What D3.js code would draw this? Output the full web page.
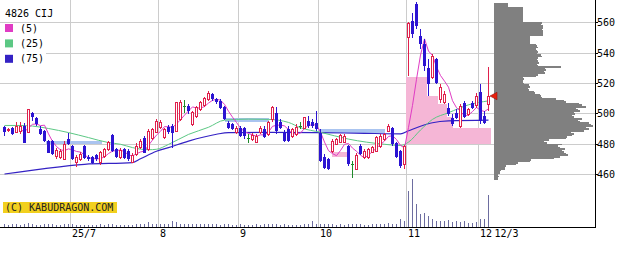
<!DOCTYPE html>
<html><head><meta charset="utf-8">
<script src="https://cdn.jsdelivr.net/npm/d3@7"></script>
<style>html,body{margin:0;padding:0;background:#fff}svg{display:block}</style>
</head><body><svg id="c" width="639" height="254"></svg>
<script>
// ---- data ----
const ticker = "4826 CIJ";
const opens = [491,489.2,490.5,487.6,488.3,491.6,487.2,500.4,497.1,489.8,
488.3,481.7,481.7,471.4,470.7,469.6,482.8,478.4,467.8,469.6,
478.4,471.4,471.4,472.2,467.8,471.8,476.2,485.4,476.2,470.7,
476.2,475.1,467.8,472.9,477.3,483.9,476.2,483.2,487.6,490.5,
483.9,491.2,491.6,488.3,496,504.8,504.8,492.7,498.2,502.6,
505.2,509.2,512.5,509.2,508.1,504.4,493.8,492.7,487.2,490.5,
490.5,483.9,482.8,480.6,487.2,489.8,486.1,496,500.4,494.2,
487.6,489.8,485,486.1,491.6,489.8,494.9,494.2,493.8,487.2,
471.4,469.6,475.1,479.5,481,480.6,478.4,466.3,463,478.4,
470.7,470.7,474.4,475.1,478.4,482.8,488.3,490.5,480.4,475,
466.5,549.8,560.8,571.8,550.9,545.4,530.1,523.5,535.6,509.2,
507,503.7,497.1,500.4,491.6,507,499.3,507,505,514,
498.2,505.5];
const highs = [491.6,490.5,491.2,494.2,494.2,493.8,503,501,497.8,491.6,
489,482.4,482.2,477.3,476.2,481.7,486.8,478.8,472.2,474.4,
478.8,472.2,471.8,472.9,475.1,477.3,481.7,486.1,477.3,477.3,
477.3,476.2,474,480.6,483.2,485,489.8,490.5,496.4,495.6,
490.5,492,492.7,507.4,508.8,508.8,505.9,501.5,504.8,508.1,
511,514.7,513.2,510.3,509.2,504.8,494.9,493.8,491.6,491.6,
491.2,486.1,487.2,486.1,491.6,491.6,494.9,505,504.4,496,
489,491.6,490.5,492.7,494.2,497.8,498.2,496,501.5,489.4,
472.9,470.7,482.8,484,486.1,486.1,478.8,468.5,473.6,479.5,
476.2,477.3,478.4,485,486.1,487.2,492.7,491.2,481,476,
479,560.2,566.3,573.3,555.3,548.7,535.6,538.9,536.7,519.1,
514.7,507,499.3,502.6,505.9,508.1,503.7,508.1,513.6,519,
501.5,530.5];
const lows = [485,487.6,485.4,487.2,486.1,480.2,487.2,494.9,491.6,485.4,
481,473.6,472.2,469.6,469.6,469.2,478.8,469.2,464.8,468.5,
470,468.5,466.3,468.5,466,470.7,475.1,474.4,470.5,469.6,
469.6,468.5,467,471.8,476.2,473.6,475.1,482.4,487.2,489.4,
483.2,486.1,477.3,487.6,494.9,500.4,499.3,491.6,497.1,501.5,
504.4,508.1,508.1,505.9,502.6,495.6,489.4,489,486.1,484.5,
483.2,480.6,481.7,480.2,486.1,483.9,485,494,486.1,489.4,
481,481,483.9,485,489.4,489.4,490.5,490.5,488.3,467.8,
463,462.6,474,478.8,480.6,480.2,465.6,457.5,462.6,472.2,
470,470,473.6,474.4,477.3,481.7,487.6,478.4,470.8,464,
463,524.6,549.8,555.3,542.1,527.9,511.4,522.4,519.1,507,
505.9,498.2,491.6,496.4,490.5,497,498.2,502.6,503.7,493,
492.7,501.5];
const closes = [487.6,489.6,486.1,491.6,491.6,480.2,502.6,497.8,492.7,486.1,
481.7,474,472.9,475.8,475.1,479.5,479.5,469.6,470.7,472.9,
470.7,469.6,467,469.6,474,476.2,480.6,475.1,471.4,475.8,
470.7,469.6,472.2,478.4,481.7,474,488.3,489.4,494.9,494.2,
489.4,487.6,487.2,507,507.4,504.8,501.5,500.4,503.7,507,
509.6,513.2,509.2,507.4,503.7,496,490.5,489.8,489.8,485,
485,483.9,485.4,485,489.8,484.5,493.8,504,488.5,490.5,
481.7,481.7,489.4,490.5,491.6,497.1,491.6,491.6,489.4,468.5,
464.1,463.4,481.7,482.8,485.4,484.5,466.3,466.3,472.2,472.9,
475.1,476.2,477.3,483.9,485,486.1,491.6,479.5,471.5,465.5,
477.8,559.3,552,557.5,545.4,531.2,519.1,537.3,520.2,516.9,
512.5,499.3,492.7,497.1,504.8,497.5,502.6,503.7,511,495,
493.8,511.4];
const volumes = [18,15,20,16,14,22,27,18,15,14,
16,20,22,15,14,18,20,16,14,12,
14,12,15,13,16,14,18,20,15,13,
14,12,15,16,18,20,37,24,20,18,
16,20,53,45,25,18,20,16,22,18,
20,24,18,16,15,20,18,14,15,16,
14,12,15,16,14,18,20,24,18,15,
16,14,12,15,14,18,16,53,20,22,
25,20,18,15,16,14,20,18,22,16,
14,15,20,16,18,20,30,20,25,73,
50,346,466,216,116,126,96,73,50,50,
50,60,45,50,40,50,33,33,45,70,
70,306];
const ma25Idx = [0,4,7,11,16,21,26,29,32,36,38,41,46,51,55,61,66,71,74,79,86,95,99,101,104,107,111,116,121];
const ma25Val = [492,492,491.6,490,487.3,484,480.7,479.6,477.4,476,476.3,479.5,486.1,490.8,495.5,496.2,496,494,490.5,487.5,483,479.6,478.8,481,489,496,500.4,505.6,508.2];
const ma75Idx = [0,10,20,32,34,38,41,46,53,56,66,78,90,99,101,104,107,111,121];
const ma75Val = [460,463.6,466.4,467.5,470,475,477.4,481.7,486.2,487.3,487.5,487.3,486.8,486.5,488.5,491.5,493.8,495,495.5];
const monthIdx = [17,39,59,79,101,119];
const monthLabels = ["25/7","8","9","10","11","12"];
const lastLabel = "12/3";
const priceTicks = [460,480,500,520,540,560];
const legendNames = ["(5)","(25)","(75)"];
// shaded price zones [fromIdx, toIdx, lowPrice, highPrice]
const blueZones = [[10.5,24.5,479.6,482.0],[55.3,66.3,494.6,497.0],[78.6,95.3,487.3,489.9]];
const pinkZones = [[81.9,85.7,471.5,474.5],[100.5,105.7,479.6,524.1],[105.7,108.5,479.6,511.4],
  [108.5,110.8,479.6,506],[110.8,112.3,479.6,497.5],[100.5,121.7,479.6,490.6]];
// volume-by-price profile, one value per 1 yen level starting at 456
const profileStart = 456;
const profileVol = [4,4,5,4, 6,6,7, 11,11,12, 22,24, 36,37, 60,66, 74,72, 70,68,71, 66,64,68,
  53,50,55, 72,73, 78,80,77, 90,95,92, 99,97,95, 86,84,88, 80,78,81, 80,86,84,82, 92,88,85,
  72,70,62, 48,47,46, 41,40, 35,34,36,35, 30,29,29,30,29, 42,44, 51,50,52,51, 67,
  44,43,45,44,43,44, 48,47, 43,44,43,42,44,43,42, 36,36,36,36,36,
  49,49,49,49,48,49,49,47,48, 29,29,29,29,29,29,29,29,29,29, 14,14,14];

// ---- chart ----
const svg = d3.select("#c");
const W = 639, H = 254;
const axisX = 595, axisY = 227;
const x = d3.scaleLinear().domain([0,121]).range([4,488]);
const y = d3.scaleLinear().domain([460,560]).range([174,22.3]);
const vY = d3.scaleLinear().domain([0,500]).range([axisY-1, axisY-51]);
const pX = d3.scaleLinear().domain([0,100]).range([494,594]);
const col = {red:"#e0204c", blue:"#2c14d2", green:"#1f8a2a", ma5:"#e03cc4", ma25:"#5cc884", ma75:"#3422c4",
  pink:"#f5b6d6", lblue:"#aac4f0", vol:"#6d6da0", grid:"#cccccc", prof:"#808080"};

svg.append("rect").attr("width",W).attr("height",H).attr("fill","#fff");

// grid
const g = svg.append("g").attr("shape-rendering","crispEdges");
priceTicks.forEach(p => g.append("line").attr("x1",0).attr("x2",axisX).attr("y1",Math.round(y(p))+0.5).attr("y2",Math.round(y(p))+0.5).attr("stroke",col.grid));
monthIdx.forEach(i => g.append("line").attr("x1",x(i)-2+0.5).attr("x2",x(i)-2+0.5).attr("y1",0).attr("y2",axisY).attr("stroke",col.grid));

// zones
const z = svg.append("g").attr("shape-rendering","crispEdges");
const zoneRect = (d,c) => z.append("rect").attr("x",x(d[0])).attr("width",x(d[1])-x(d[0]))
  .attr("y",y(d[3])).attr("height",y(d[2])-y(d[3])).attr("fill",c);
pinkZones.forEach(d => zoneRect(d,col.pink));
blueZones.forEach(d => zoneRect(d,col.lblue));

// volume
svg.append("g").attr("shape-rendering","crispEdges").selectAll("line").data(volumes).join("line")
  .attr("x1",(d,i)=>x(i)+0.5).attr("x2",(d,i)=>x(i)+0.5)
  .attr("y1",axisY).attr("y2",d=>vY(d)).attr("stroke",col.vol);

// profile
svg.append("g").attr("shape-rendering","crispEdges").selectAll("rect").data(profileVol).join("rect")
  .attr("x",pX(0)).attr("width",d=>pX(d)-pX(0))
  .attr("y",(d,i)=>y(profileStart+i+1)).attr("height",(d,i)=>y(profileStart+i)-y(profileStart+i+1)+0.3)
  .attr("fill",col.prof);

// moving averages
const ma5 = closes.map((c,i)=> i<4 ? null : d3.mean(closes.slice(i-4,i+1)));
const line = d3.line().defined(d=>d[1]!=null).x(d=>x(d[0])+0.5).y(d=>y(d[1]));
svg.append("path").attr("d",line.curve(d3.curveMonotoneX)(ma75Idx.map((k,j)=>[k,ma75Val[j]]))).attr("fill","none").attr("stroke",col.ma75).attr("stroke-width",1.2);
svg.append("path").attr("d",line.curve(d3.curveMonotoneX)(ma25Idx.map((k,j)=>[k,ma25Val[j]]))).attr("fill","none").attr("stroke",col.ma25).attr("stroke-width",1);
svg.append("path").attr("d",line.curve(d3.curveLinear)(ma5.map((v,i)=>[i,v]))).attr("fill","none").attr("stroke",col.ma5).attr("stroke-width",1);

// candles
const cg = svg.append("g").attr("shape-rendering","crispEdges");
closes.forEach((c,i) => {
  const o = opens[i], xi = x(i);
  const color = c>o ? col.red : (c<o ? col.blue : col.green);
  cg.append("line").attr("x1",xi+0.5).attr("x2",xi+0.5).attr("y1",y(highs[i])).attr("y2",y(lows[i])).attr("stroke",color);
  if (c>o) {
    cg.append("rect").attr("x",xi-0.5).attr("width",2).attr("y",y(c)).attr("height",Math.max(1,y(o)-y(c)))
      .attr("fill","#fff").attr("stroke",color);
  } else if (c<o) {
    cg.append("rect").attr("x",xi-1).attr("width",3).attr("y",y(o)).attr("height",Math.max(1,y(c)-y(o))).attr("fill",color);
  } else {
    cg.append("line").attr("x1",xi-1).attr("x2",xi+2).attr("y1",Math.round(y(c))+0.5).attr("y2",Math.round(y(c))+0.5).attr("stroke",color);
  }
});

// last price marker
const lp = y(closes[closes.length-1]), lx = x(closes.length-1);
svg.append("path").attr("d",`M${lx+2},${lp} L${lx+9},${lp-3.8} L${lx+9},${lp+3.8} Z`).attr("fill","#e8200c").attr("stroke","#901010").attr("stroke-width",0.6);

// axes
const ax = svg.append("g").attr("shape-rendering","crispEdges");
ax.append("line").attr("x1",0).attr("x2",axisX+1).attr("y1",axisY+0.5).attr("y2",axisY+0.5).attr("stroke","#000");
ax.append("line").attr("x1",axisX+0.5).attr("x2",axisX+0.5).attr("y1",0).attr("y2",axisY+1).attr("stroke","#000");
const font = "'DejaVu Sans Mono', monospace";
priceTicks.forEach(p => {
  const yy = Math.round(y(p))+0.5;
  ax.append("line").attr("x1",axisX).attr("x2",axisX+3).attr("y1",yy).attr("y2",yy).attr("stroke","#000");
  svg.append("text").attr("x",597).attr("y",yy+3.8).text(p).attr("font-family",font).attr("font-size",10).attr("fill","#000");
});
monthIdx.forEach((i,k) => svg.append("text").attr("x",x(i)).attr("y",237).text(monthLabels[k])
  .attr("font-family",font).attr("font-size",10).attr("fill","#000"));
svg.append("text").attr("x",x(121)+6.5).attr("y",237).text(lastLabel).attr("font-family",font).attr("font-size",10).attr("fill","#000");

// legend
svg.append("rect").attr("x",0).attr("y",23).attr("width",46).attr("height",41).attr("fill","#fff");
svg.append("text").attr("x",5).attr("y",17).text(ticker).attr("font-family",font).attr("font-size",10).attr("fill","#000");
[col.ma5,col.ma25,col.ma75].forEach((c,k) => {
  svg.append("rect").attr("x",5).attr("y",24+k*15.4).attr("width",8).attr("height",8).attr("fill",c);
  svg.append("text").attr("x",20).attr("y",32+k*15.2).text(legendNames[k]).attr("font-family",font).attr("font-size",10).attr("fill","#000");
});

// copyright
svg.append("rect").attr("x",3).attr("y",202).attr("width",114).attr("height",11).attr("fill","#f2d01e");
svg.append("text").attr("x",5).attr("y",211).text("(C) KABUDRAGON.COM").attr("font-family",font).attr("font-size",10).attr("fill","#222");
</script></body></html>
